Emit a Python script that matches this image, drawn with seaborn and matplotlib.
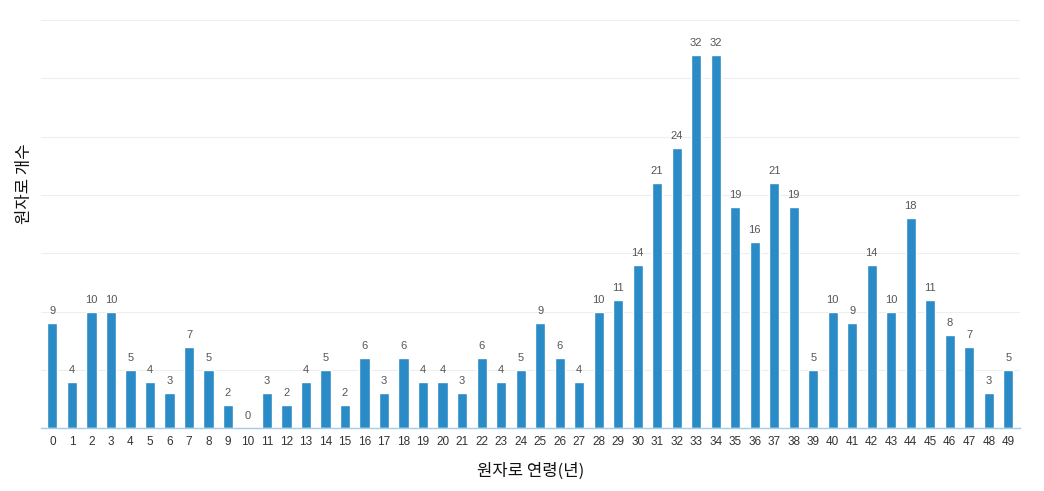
import numpy as np
import pandas as pd
import matplotlib
matplotlib.use('Agg')
import matplotlib.pyplot as plt
import seaborn as sns

# 원자로 연령(년)별 원자로 개수
ages = list(range(50))
counts = [9, 4, 10, 10, 5, 4, 3, 7, 5, 2,
          0, 3, 2, 4, 5, 2, 6, 3, 6, 4,
          4, 3, 6, 4, 5, 9, 6, 4, 10, 11,
          14, 21, 24, 32, 32, 19, 16, 21, 19, 5,
          10, 9, 14, 10, 18, 11, 8, 7, 3, 5]

sns.set_theme(style="white")
plt.rcParams['font.family'] = ['Noto Sans CJK KR', 'DejaVu Sans']

df = pd.DataFrame({'age': ages, 'count': counts})

fig = plt.figure(figsize=(10.44, 4.91), dpi=100)
ax = fig.add_axes([0.039, 0.128, 0.938, 0.831])

sns.barplot(data=df, x='age', y='count', color='#2a8bc6', width=0.52,
            saturation=1, ax=ax)

# 값 라벨
for i, v in enumerate(counts):
    ax.text(i, v + 0.6, str(v), ha='center', va='bottom', fontsize=8,
            color='#555555', family=['Liberation Sans', 'DejaVu Sans'])

ax.set_xlim(-0.6, 49.6)
ax.set_ylim(0, 35)
ax.set_yticks(range(0, 36, 5))
ax.set_yticklabels([])
ax.tick_params(axis='y', length=0)
ax.tick_params(axis='x', length=0, labelsize=8.5, colors='#333333', pad=6)
for lab in ax.get_xticklabels():
    lab.set_family(['Liberation Sans', 'DejaVu Sans'])
ax.grid(axis='y', color='#eeeeee', linewidth=0.8)
ax.set_axisbelow(True)
for s in ['top', 'right', 'left']:
    ax.spines[s].set_visible(False)
ax.spines['bottom'].set_color('#a8cbe6')
ax.spines['bottom'].set_linewidth(1.0)

ax.set_xlabel('원자로 연령(년)', fontsize=12, color='#111111', labelpad=10)
ax.set_ylabel('원자로 개수', fontsize=12, color='#111111')
ax.yaxis.set_label_coords(-0.008, 0.60)

fig.savefig('out.png', dpi=100)
